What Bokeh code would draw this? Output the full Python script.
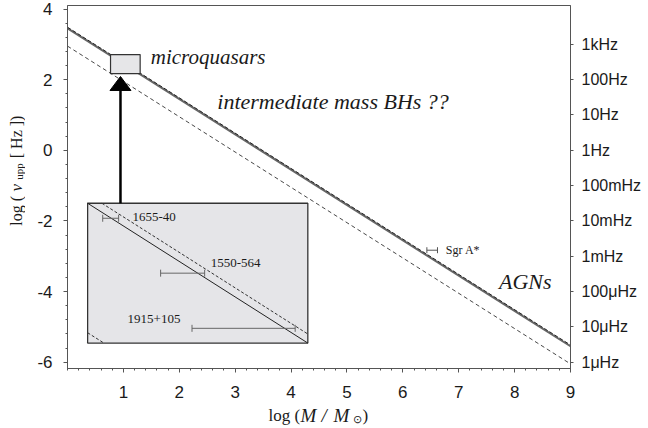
import numpy as np
from bokeh.plotting import figure
from bokeh.layouts import row, column
from bokeh.models import (ColumnDataSource, LinearAxis, FixedTicker,
                          Whisker, TeeHead, Range1d)
from bokeh.core.properties import value
from bokeh.embed import file_html
from bokeh.resources import INLINE

# ---------------- data ----------------
line_x = [0.0, 9.0]
solid_y = [3.45, -5.55]
upper_dashed_y = [3.485, -5.515]
lower_dashed_y = [2.95, -6.05]

x_ticks = [1, 2, 3, 4, 5, 6, 7, 8, 9]
y_ticks = [-6, -4, -2, 0, 2, 4]
freq_ticks = [3, 2, 1, 0, -1, -2, -3, -4, -5, -6]
freq_labels = ["1kHz", "100Hz", "10Hz", "1Hz", "100mHz", "10mHz", "1mHz",
               "100\u03bcHz", "10\u03bcHz", "1\u03bcHz"]

micro_box_x = [0.77, 1.30]
micro_box_y = [2.17, 2.71]

# zoom window (log M, log nu) shown enlarged in the inset
zoom_x = [0.76, 1.30]
zoom_y = [2.15, 2.69]
inset_x = [0.36, 4.30]
inset_y = [-5.46, -1.50]

src_names = ["1655-40", "1550-564", "1915+105"]
src_lo = [0.797, 0.939, 1.016]
src_hi = [0.836, 1.047, 1.269]
src_nu = [2.632, 2.420, 2.207]
src_label_x = [0.870, 1.062, 0.858]
src_label_y = [2.636, 2.458, 2.242]

sgr_lo = [6.43]
sgr_hi = [6.62]
sgr_nu = [-2.83]

TXT = "#1a1a1a"
AX = "#555555"
SERIF = value("Liberation Serif")

# ---------------- main figure ----------------
p = figure(frame_width=503, frame_height=363,
           x_range=Range1d(0, 9), y_range=Range1d(-6.18, 4.10),
           output_backend="svg", toolbar_location=None,
           min_border_left=42, min_border_top=5, min_border_bottom=36,
           min_border_right=78)
p.grid.visible = False
p.outline_line_color = AX
p.background_fill_color = "white"
p.border_fill_color = "white"

for ax in (p.xaxis[0], p.yaxis[0]):
    ax.axis_line_color = AX
    ax.major_tick_line_color = AX
    ax.minor_tick_line_color = AX
    ax.major_tick_in = 0
    ax.major_tick_out = 4
    ax.minor_tick_in = 0
    ax.minor_tick_out = 2
    ax.major_label_text_font = "Liberation Sans"
    ax.major_label_text_font_size = "17px"
    ax.major_label_text_color = TXT

p.xaxis.ticker = FixedTicker(ticks=x_ticks,
                             minor_ticks=[round(0.2 * i, 1) for i in range(46)])
p.xaxis.major_label_standoff = 13
p.yaxis.ticker = FixedTicker(ticks=y_ticks,
                             minor_ticks=[round(-6.0 + 0.4 * i, 1) for i in range(26)])
p.yaxis.major_label_standoff = 11
p.yaxis.major_label_overrides = {t: str(t) for t in y_ticks}

raxis = LinearAxis(ticker=FixedTicker(ticks=freq_ticks),
                   major_label_overrides={t: l for t, l in zip(freq_ticks, freq_labels)})
raxis.axis_line_color = AX
raxis.major_tick_line_color = AX
raxis.major_tick_in = 0
raxis.major_tick_out = 3
raxis.major_label_standoff = 8
raxis.major_label_text_font = "Liberation Sans"
raxis.major_label_text_font_size = "16px"
raxis.major_label_text_color = TXT
p.add_layout(raxis, "right")

# ---------------- main lines ----------------
p.line(line_x, lower_dashed_y, line_color="#333333", line_width=0.9, line_dash="4 3")
p.line(line_x, solid_y, line_color="#666666", line_width=2.0)
p.line(line_x, upper_dashed_y, line_color="#222222", line_width=1.0, line_dash="4 2")

# microquasar box
p.quad(left=[micro_box_x[0]], right=[micro_box_x[1]], bottom=[micro_box_y[0]],
       top=[micro_box_y[1]], fill_color="#e6e6e8", line_color="#333333", line_width=1.2)

# Sgr A* error bar
sgr_src = ColumnDataSource(dict(y=sgr_nu, lo=sgr_lo, hi=sgr_hi))
p.add_layout(Whisker(source=sgr_src, base="y", lower="lo", upper="hi", dimension="width",
                     line_color="#555555", line_width=1, level="overlay",
                     upper_head=TeeHead(size=6, line_color="#555555"),
                     lower_head=TeeHead(size=6, line_color="#555555")))

# ---------------- inset ----------------
def mx(x):
    x = np.asarray(x, dtype=float)
    return inset_x[0] + (x - zoom_x[0]) / (zoom_x[1] - zoom_x[0]) * (inset_x[1] - inset_x[0])

def my(y):
    y = np.asarray(y, dtype=float)
    return inset_y[0] + (y - zoom_y[0]) / (zoom_y[1] - zoom_y[0]) * (inset_y[1] - inset_y[0])

p.quad(left=[inset_x[0]], right=[inset_x[1]], bottom=[inset_y[0]], top=[inset_y[1]],
       fill_color="#e5e5e8", line_color="#333333", line_width=1.3)

def clipped(ys):
    a = ys[0]
    m = (ys[1] - ys[0]) / (line_x[1] - line_x[0])
    xa = max(zoom_x[0], (zoom_y[1] - a) / m)
    xb = min(zoom_x[1], (zoom_y[0] - a) / m)
    if xb <= xa:
        return None
    xs = np.array([xa, xb])
    return mx(xs), my(a + m * xs)

for ys, col, w, dash in [(solid_y, "#222222", 1.0, "solid"),
                         (upper_dashed_y, "#333333", 1.0, "3 2"),
                         (lower_dashed_y, "#333333", 1.0, "3 2")]:
    seg = clipped(ys)
    if seg is not None:
        p.line(seg[0], seg[1], line_color=col, line_width=w, line_dash=dash)

ins_src = ColumnDataSource(dict(y=my(src_nu), lo=mx(src_lo), hi=mx(src_hi)))
p.add_layout(Whisker(source=ins_src, base="y", lower="lo", upper="hi", dimension="width",
                     line_color="#666666", line_width=1, level="overlay",
                     upper_head=TeeHead(size=7, line_color="#666666"),
                     lower_head=TeeHead(size=7, line_color="#666666")))
p.text(x=mx(src_label_x), y=my(src_label_y), text=src_names,
       text_font=SERIF, text_font_size="13px",
       text_baseline="middle", text_align="left", text_color=TXT)

# arrow from inset to microquasar box
arrow_x = 0.948
tip_y = 2.09
head_len = 14 / 35.31
head_half = 10.5 / 55.89
p.line([arrow_x, arrow_x], [inset_y[1], tip_y - head_len], line_color="black", line_width=2.5)
p.patch([arrow_x - head_half, arrow_x, arrow_x + head_half],
        [tip_y - head_len, tip_y, tip_y - head_len], fill_color="black", line_color="black")

# ---------------- text annotations ----------------
p.text(x=[1.49], y=[2.63], text=["microquasars"], text_font=SERIF, text_font_size="21px",
       text_font_style="italic", text_baseline="middle", text_color=TXT)
p.text(x=[2.68], y=[1.37], text=["intermediate mass BHs ??"], text_font=SERIF,
       text_font_size="22px", text_font_style="italic", text_baseline="middle",
       text_color=TXT)
p.text(x=[7.72], y=[-3.73], text=["AGNs"], text_font=SERIF, text_font_size="22px",
       text_font_style="italic", text_baseline="middle", text_color=TXT)
p.text(x=[6.77], y=[-2.83], text=["Sgr A*"], text_font=SERIF, text_font_size="12px",
       text_baseline="middle", text_color=TXT)

# ---------------- y-axis title panel ----------------
YH = 404
ylab = figure(width=25, height=YH, x_range=Range1d(0, 25), y_range=Range1d(0, YH),
              x_axis_type=None, y_axis_type=None, output_backend="svg",
              toolbar_location=None, min_border=0, outline_line_color=None)
ylab.grid.visible = False
ang = np.pi / 2
# (x baseline, bottom start) in panel pixels; text reads upward
ylab.text(x=[16.0], y=[YH - 245], text=["log ("], angle=ang, text_font=SERIF,
          text_font_size="16px", text_baseline="alphabetic", text_color=TXT)
ylab.text(x=[16.0], y=[YH - 207], text=["\u03bd"], angle=ang, text_font=SERIF,
          text_font_size="17px", text_font_style="italic", text_baseline="alphabetic",
          text_color=TXT)
ylab.text(x=[18.0], y=[YH - 194], text=["upp"], angle=ang, text_font=SERIF,
          text_font_size="11px", text_baseline="alphabetic", text_color=TXT)
ylab.text(x=[16.0], y=[YH - 170], text=["[ Hz ])"], angle=ang, text_font=SERIF,
          text_font_size="16px", text_baseline="alphabetic", text_color=TXT)

# ---------------- x-axis title panel ----------------
XH = 24
xlab = figure(width=648, height=XH, x_range=Range1d(0, 648), y_range=Range1d(0, XH),
              x_axis_type=None, y_axis_type=None, output_backend="svg",
              toolbar_location=None, min_border=0, outline_line_color=None)
xlab.grid.visible = False
base = XH - (415 - YH)
xlab.text(x=[268], y=[base], text=["log ("], text_font=SERIF, text_font_size="17px",
          text_baseline="alphabetic", text_color=TXT)
xlab.text(x=[300, 321, 333], y=[base] * 3, text=["M", "/", "M"], text_font=SERIF,
          text_font_size="19px", text_font_style="italic", text_baseline="alphabetic",
          text_color=TXT)
xlab.text(x=[352], y=[base - 3], text=["\u2299"], text_font=SERIF, text_font_size="11px",
          text_baseline="alphabetic", text_color=TXT)
xlab.text(x=[362], y=[base], text=[")"], text_font=SERIF, text_font_size="17px",
          text_baseline="alphabetic", text_color=TXT)

layout = column(row(ylab, p, spacing=0), xlab, spacing=0)
open("out.html", "w").write(file_html(layout, INLINE))
